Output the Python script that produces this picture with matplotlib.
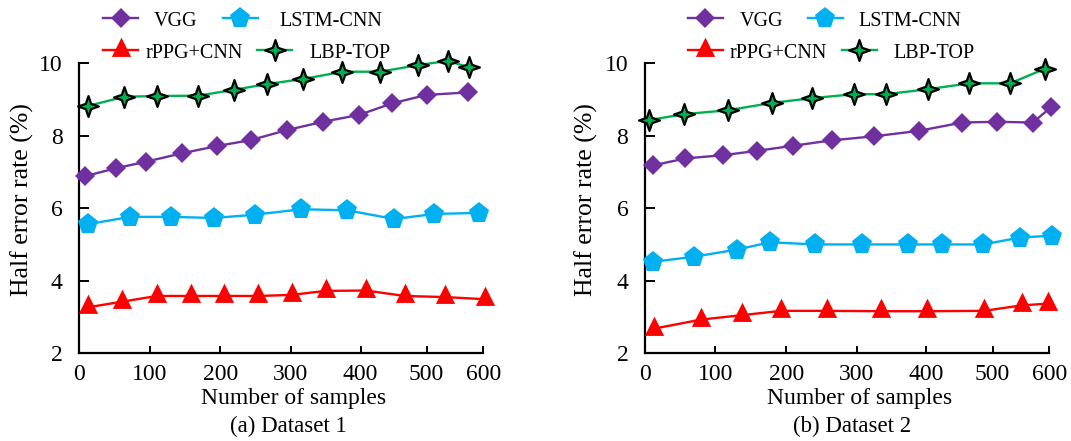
import numpy as np
import matplotlib
matplotlib.use("Agg")
import matplotlib.pyplot as plt
from matplotlib.path import Path

# ---------------- data ----------------
tick_values = [0, 100, 200, 300, 400, 500, 600]
y_ticks = [2, 4, 6, 8, 10]
series_names = ["VGG", "LSTM-CNN", "rPPG+CNN", "LBP-TOP"]

# Dataset 1
vgg1_x = [8, 52, 95, 145, 195, 244, 294, 346, 398, 448, 500, 573]
vgg1_y = [6.88, 7.10, 7.28, 7.51, 7.71, 7.88, 8.15, 8.38, 8.57, 8.89, 9.12, 9.19]
lstm1_x = [13, 72, 130, 191, 249, 315, 381, 451, 513, 593]
lstm1_y = [5.56, 5.76, 5.76, 5.73, 5.82, 5.97, 5.94, 5.70, 5.84, 5.87]
rppg1_x = [13, 60, 110, 158, 205, 254, 301, 350, 408, 467, 532, 603]
rppg1_y = [3.27, 3.42, 3.58, 3.58, 3.58, 3.58, 3.61, 3.72, 3.73, 3.58, 3.55, 3.49]
lbp1_x = [13, 64, 111, 169, 219, 266, 318, 374, 429, 487, 537, 575]
lbp1_y = [8.82, 9.07, 9.09, 9.10, 9.26, 9.42, 9.56, 9.76, 9.76, 9.94, 10.06, 9.88]

# Dataset 2
vgg2_x = [12, 57, 111, 159, 210, 265, 325, 389, 454, 507, 571, 603]
vgg2_y = [7.18, 7.37, 7.46, 7.58, 7.72, 7.87, 7.98, 8.13, 8.36, 8.38, 8.36, 8.78]
lstm2_x = [11, 69, 131, 177, 241, 307, 374, 424, 486, 548, 604]
lstm2_y = [4.52, 4.66, 4.86, 5.06, 5.00, 5.00, 5.00, 5.00, 5.00, 5.19, 5.24]
rppg2_x = [13, 80, 137, 193, 258, 335, 401, 487, 551, 598]
rppg2_y = [2.68, 2.93, 3.05, 3.17, 3.17, 3.16, 3.16, 3.17, 3.32, 3.37]
lbp2_x = [6, 56, 118, 180, 236, 296, 342, 403, 465, 531, 592]
lbp2_y = [8.43, 8.59, 8.70, 8.90, 9.03, 9.14, 9.14, 9.28, 9.44, 9.44, 9.84]

x_label = "Number of samples"
y_label = "Half error rate (%)"
captions = ["(a) Dataset 1", "(b) Dataset 2"]

# ---------------- style ----------------
plt.rcParams['font.family'] = ['Liberation Serif', 'DejaVu Serif']
colors = {"VGG": "#7030A0", "LSTM-CNN": "#00B0F0", "rPPG+CNN": "#FF0000", "LBP-TOP": "#00B050"}

# marker shapes
tri_marker = Path([(0, 0.6667), (-0.5, -0.3333), (0.5, -0.3333), (0, 0.6667)],
                  [Path.MOVETO, Path.LINETO, Path.LINETO, Path.CLOSEPOLY])
star_verts = []
for k in range(8):
    ang = np.pi / 2 + k * np.pi / 4
    r = 1.0 if k % 2 == 0 else 0.36
    star_verts.append((r * np.cos(ang), r * np.sin(ang)))
star_verts.append(star_verts[0])
star_marker = Path(star_verts, [Path.MOVETO] + [Path.LINETO] * 7 + [Path.CLOSEPOLY])

styles = {
    "VGG": dict(marker="D", markersize=10, markeredgewidth=0),
    "LSTM-CNN": dict(marker="p", markersize=15.5, markeredgewidth=0),
    "rPPG+CNN": dict(marker=tri_marker, markersize=18.5, markeredgewidth=0),
    "LBP-TOP": dict(marker=star_marker, markersize=15, markeredgewidth=1.6, markeredgecolor="black"),
}

# non-uniform x axis as in the reference (tick positions in px from axis start)
tick_pos = [0, 70.4, 141.2, 211.7, 281.4, 347.5, 404.2]


def fwd(x):
    x = np.asarray(x, dtype=float)
    y = np.interp(x, tick_values, tick_pos)
    y = np.where(x > 600, tick_pos[-1] + (x - 600) * 0.567, y)
    y = np.where(x < 0, x * 0.704, y)
    return y


def inv(y):
    y = np.asarray(y, dtype=float)
    x = np.interp(y, tick_pos, tick_values)
    x = np.where(y > tick_pos[-1], 600 + (y - tick_pos[-1]) / 0.567, x)
    x = np.where(y < 0, y / 0.704, x)
    return x


W, H = 1071, 441
fig = plt.figure(figsize=(W / 100, H / 100), dpi=100)

axes_px = [(79.3, 483.3), (645.0, 1049.3)]
top_px, bot_px = 63.0, 353.3

datasets = [
    {"VGG": (vgg1_x, vgg1_y), "LSTM-CNN": (lstm1_x, lstm1_y),
     "rPPG+CNN": (rppg1_x, rppg1_y), "LBP-TOP": (lbp1_x, lbp1_y)},
    {"VGG": (vgg2_x, vgg2_y), "LSTM-CNN": (lstm2_x, lstm2_y),
     "rPPG+CNN": (rppg2_x, rppg2_y), "LBP-TOP": (lbp2_x, lbp2_y)},
]

xlabel_cx = [0.531, 0.531]
caption_cx = [0.5166, 0.512]
ylabel_cx = [-0.113, -0.117]

handles_all = []
for i, (x0, x1) in enumerate(axes_px):
    ax = fig.add_axes([x0 / W, 1 - bot_px / H, (x1 - x0) / W, (bot_px - top_px) / H])
    ax.set_xscale('function', functions=(fwd, inv))
    handles = {}
    for name in series_names:
        xs, ys = datasets[i][name]
        ln, = ax.plot(xs, ys, color=colors[name], linewidth=1.7,
                      markerfacecolor=colors[name], clip_on=False, zorder=3,
                      **styles[name])
        handles[name] = ln
    handles_all.append(handles)
    ax.set_xlim(0, 600)
    ax.set_ylim(2, 10)
    ax.set_xticks(tick_values)
    ax.set_xticklabels([str(v) for v in tick_values])
    ax.set_yticks(y_ticks)
    ax.set_yticklabels([str(v) for v in y_ticks])
    ax.xaxis.set_minor_locator(matplotlib.ticker.NullLocator())
    for s in ["top", "right"]:
        ax.spines[s].set_visible(False)
    for s in ["left", "bottom"]:
        ax.spines[s].set_linewidth(1.6)
    ax.tick_params(axis='x', direction='in', length=5, width=1.4, labelsize=17, pad=8)
    ax.tick_params(axis='y', direction='in', length=7, width=1.4, labelsize=17, pad=12)
    ax.set_xlabel(x_label, fontsize=17)
    ax.xaxis.set_label_coords(xlabel_cx[i], -0.118)
    ax.set_ylabel(y_label, fontsize=18.5)
    ax.yaxis.set_label_coords(ylabel_cx[i], 0.529)
    ax.text(caption_cx[i], -0.252, captions[i], transform=ax.transAxes,
            ha='center', va='center', fontsize=16.5)

# legends: one per entry, placed like the reference
legend_spec = [
    # (panel, name, handle start px, y px, handletextpad)
    (0, "VGG", 103, 21, 0.77),
    (0, "LSTM-CNN", 222.5, 21, 1.1),
    (0, "rPPG+CNN", 103, 53, 0.34),
    (0, "LBP-TOP", 257, 53, 0.86),
    (1, "VGG", 687.7, 21, 0.82),
    (1, "LSTM-CNN", 807.7, 21, 0.77),
    (1, "rPPG+CNN", 687.7, 53, 0.34),
    (1, "LBP-TOP", 841.7, 53, 0.82),
]
for panel, name, hx, hy, pad in legend_spec:
    fig.legend(handles=[handles_all[panel][name]], labels=[name],
               loc='center left', bbox_to_anchor=(hx / W, 1 - hy / H),
               bbox_transform=fig.transFigure, frameon=False, borderpad=0,
               borderaxespad=0, handlelength=1.75, handletextpad=pad,
               numpoints=1, fontsize=14.5)

fig.savefig("out.png", dpi=100)
